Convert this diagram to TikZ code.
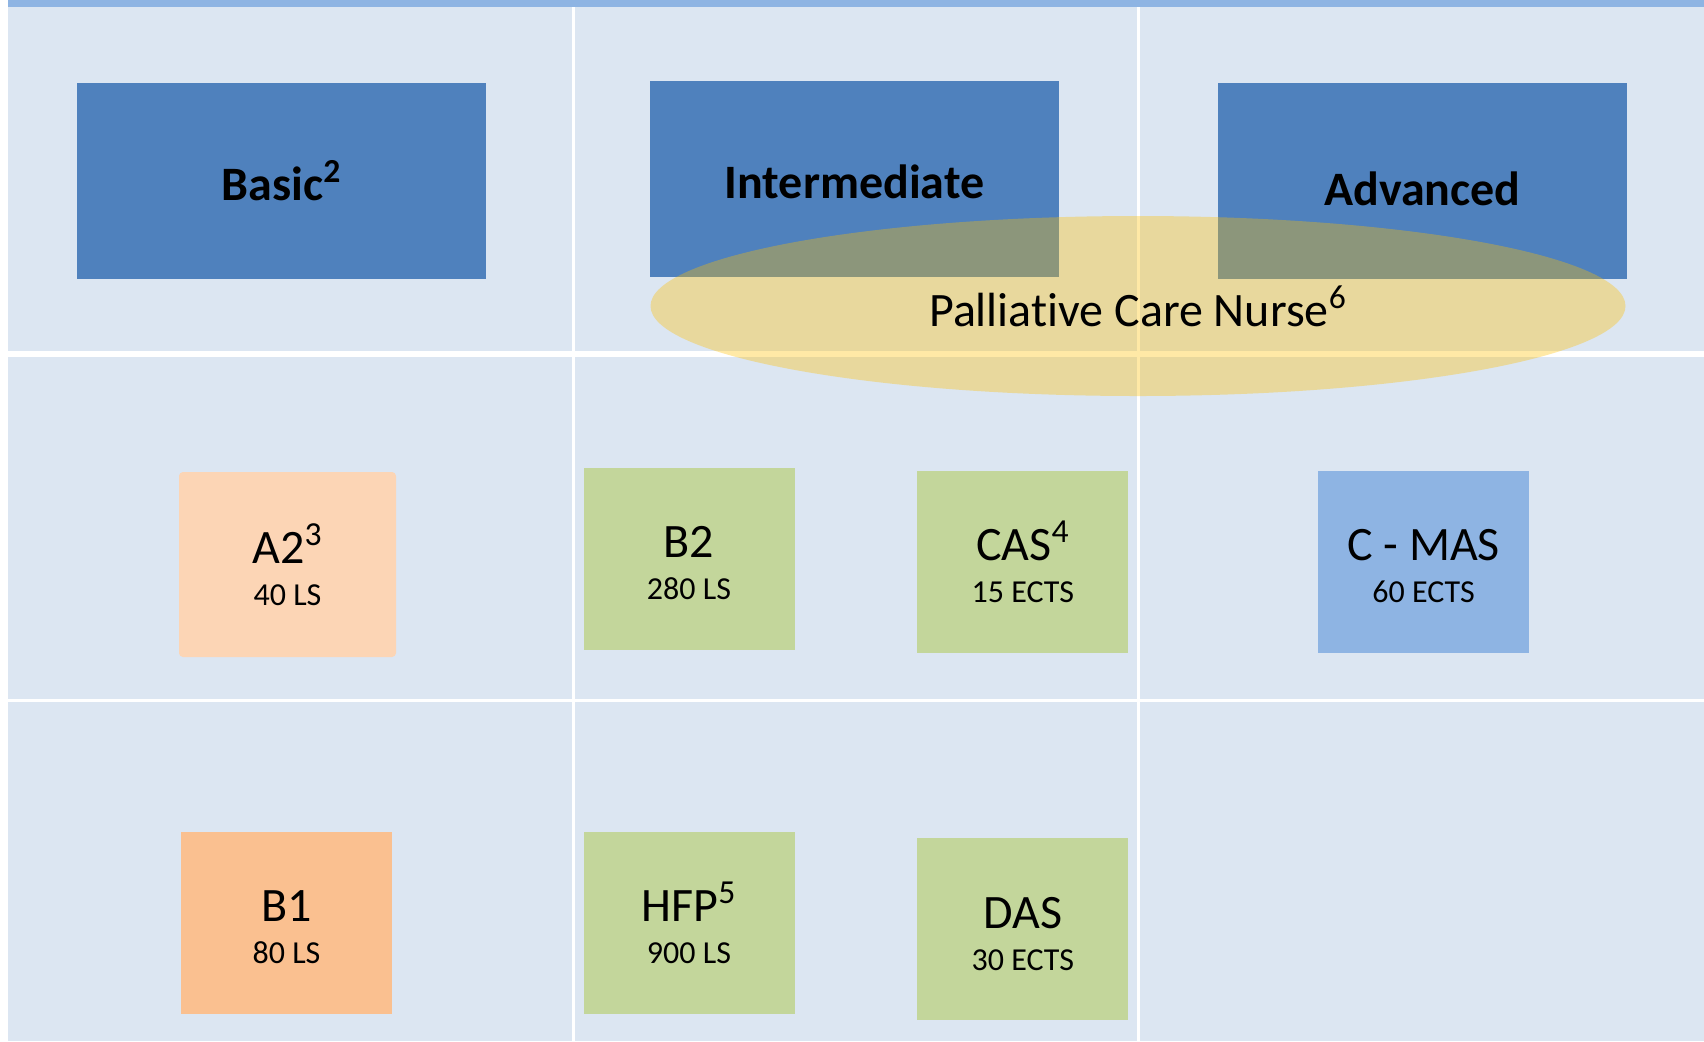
\documentclass[tikz,border=0pt]{standalone}
\usepackage{fontspec}
\setmainfont{Carlito}[Ligatures=NoCommon]
\usepackage{tikz}
\usetikzlibrary{positioning,shapes.geometric}
\definecolor{bgblue}{HTML}{DCE6F2}
\definecolor{barblue}{HTML}{8EB4E3}
\definecolor{hdrblue}{HTML}{4F81BD}
\definecolor{peachlight}{HTML}{FCD5B5}
\definecolor{peachdark}{HTML}{FAC090}
\definecolor{greenbox}{HTML}{C3D69B}
\definecolor{gold}{HTML}{FFC000}
\newcommand{\lvlsub}[1]{{\fontsize{16}{21}\selectfont #1}}
\newcommand{\course}[2]{#1\vphantom{\textsuperscript{0}}\\\lvlsub{#2}}

\begin{document}
\begin{tikzpicture}[x=0.5pt, y=-0.5pt,
  every node/.style={inner sep=0pt, align=center},
  levelbox/.style={fill=hdrblue, minimum width=204.5pt, minimum height=98pt,
    font=\fontsize{24}{24}\selectfont\bfseries,
    execute at begin node=\vphantom{A\textsuperscript{2}}},
  coursebox/.style={minimum width=105.5pt, minimum height=91pt,
    font=\fontsize{24}{21}\selectfont},
  pcnoval/.style={ellipse, fill=gold, fill opacity=0.35, text opacity=1,
    minimum width=487.5pt, minimum height=90pt, font=\fontsize{24}{24}\selectfont}]
  \useasboundingbox (0,0) rectangle (1704,1041);

  % table background
  \fill[bgblue] (8,7) rectangle (1704,1041);
  \fill[barblue] (8,0) rectangle (1704,7);
  \fill[white] (8,351) rectangle (1704,357);
  \fill[white] (8,699) rectangle (1704,701.5);
  \fill[white] (572,7) rectangle (574.5,1041);
  \fill[white] (1137,7) rectangle (1139.5,1041);

  % levels
  \node [levelbox] (basic) at (281.5,181) {Basic\textsuperscript{2}};
  \node [levelbox] (inter) at (854.5,178.5) {Intermediate};
  \node [levelbox] (adv) at (1422.5,181) {\raisebox{-4.5pt}{Advanced}};
  \node [pcnoval] (pcn) at (1138,306) {Palliative Care Nurse\textsuperscript{6}};

  % courses
  \node [coursebox, fill=peachlight, rounded corners=2pt, minimum width=108.5pt,
    minimum height=92.5pt] (a2) at (287.5,564.5) {\course{A2\textsuperscript{3}}{40 LS}};
  \node [coursebox, fill=greenbox] (b2) at (689,559) {\course{B2}{280 LS}};
  \node [coursebox, fill=greenbox, right=61pt of b2, yshift=-1.25pt] (cas) {\course{CAS\textsuperscript{4}}{15 ECTS}};
  \node [coursebox, fill=barblue, right=94.5pt of cas] (cmas) {\course{C - MAS}{60 ECTS}};
  \node [coursebox, fill=peachdark, below=87pt of a2, xshift=-0.5pt] (b1) {\course{B1}{80 LS}};
  \node [coursebox, fill=greenbox, below=90.5pt of b2] (hfp) {\course{HFP\textsuperscript{5}}{900 LS}};
  \node [coursebox, fill=greenbox, below=92.5pt of cas] (das) {\course{DAS}{30 ECTS}};
\end{tikzpicture}
\end{document}
